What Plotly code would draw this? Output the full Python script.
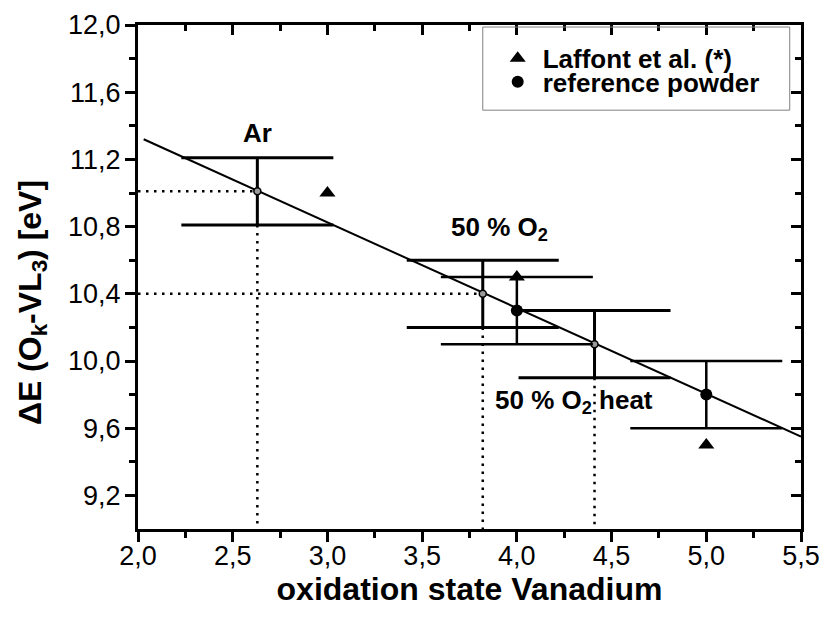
import plotly.graph_objects as go

# ---------------- data ----------------
ox_laffont = [3.0, 4.0, 5.0]
de_laffont = [11.0, 10.5, 9.5]

ox_ref = [4.0, 5.0]
de_ref = [10.3, 9.8]
err_ref = [0.2, 0.2]

ox_samp = [2.63, 3.82, 4.41]
de_samp = [11.01, 10.40, 10.10]
err_samp = [0.2, 0.2, 0.2]
samp_hguide = [True, True, False]

samp_labels = ["Ar", "50 % O<sub>2</sub>", "50 % O<sub>2</sub> heat"]
label_x = [2.63, 3.91, 4.30]
label_y = [11.36, 10.79, 9.76]

fit_x = [2.03, 5.5]
fit_y = [11.32, 9.55]

x_tickvals = [2.0, 2.5, 3.0, 3.5, 4.0, 4.5, 5.0, 5.5]
x_ticktext = ["2,0", "2,5", "3,0", "3,5", "4,0", "4,5", "5,0", "5,5"]
x_minor = [2.25, 2.75, 3.25, 3.75, 4.25, 4.75, 5.25]
y_tickvals = [9.2, 9.6, 10.0, 10.4, 10.8, 11.2, 11.6, 12.0]
y_ticktext = ["9,2", "9,6", "10,0", "10,4", "10,8", "11,2", "11,6", "12,0"]
y_minor = [9.4, 9.8, 10.2, 10.6, 11.0, 11.4, 11.8]

X_RANGE = [2.0, 5.5]
Y_RANGE = [9.0, 12.0]

X_TITLE = "oxidation state Vanadium"
Y_TITLE = "ΔE (O<sub>k</sub>-VL<sub>3</sub>) [eV]"

FONT = "Liberation Sans, Arial, Helvetica, sans-serif"
DOT = dict(color="black", width=2.5, dash="2.5px,5.5px")

fig = go.Figure()

# dotted guide lines
for x, y, e, h in zip(ox_samp, de_samp, err_samp, samp_hguide):
    if h:
        fig.add_trace(go.Scatter(x=[X_RANGE[0], x], y=[y, y], mode="lines",
                                 line=DOT, showlegend=False, hoverinfo="skip"))
    fig.add_trace(go.Scatter(x=[x, x], y=[y - e, Y_RANGE[0]], mode="lines",
                             line=DOT, showlegend=False, hoverinfo="skip"))

# linear fit
fig.add_trace(go.Scatter(x=fit_x, y=fit_y, mode="lines",
                         line=dict(color="black", width=2),
                         showlegend=False, hoverinfo="skip"))

# sample points with error bars
fig.add_trace(go.Scatter(x=ox_samp, y=de_samp, mode="markers",
                         marker=dict(symbol="circle", size=7, color="#9a9a9a",
                                     line=dict(color="black", width=1.5)),
                         error_y=dict(type="data", array=err_samp, visible=True,
                                      color="black", thickness=3, width=76),
                         showlegend=False))

# reference powder
fig.add_trace(go.Scatter(x=ox_ref, y=de_ref, mode="markers",
                         name="<b>reference powder</b>", legend="legend2",
                         marker=dict(symbol="circle", size=12, color="black"),
                         error_y=dict(type="data", array=err_ref, visible=True,
                                      color="black", thickness=2.5, width=76)))

# Laffont et al.
fig.add_trace(go.Scatter(x=ox_laffont, y=de_laffont, mode="markers",
                         name="<b>Laffont et al. (*)</b>", legend="legend",
                         marker=dict(symbol="triangle-up", size=14, color="black")))

# dummy trace for mirrored (inside-tick) axes
fig.add_trace(go.Scatter(x=[None], y=[None], xaxis="x2", yaxis="y2",
                         showlegend=False, hoverinfo="skip"))

for t, x, y in zip(samp_labels, label_x, label_y):
    fig.add_annotation(x=x, y=y, text="<b>" + t + "</b>", showarrow=False,
                       font=dict(family=FONT, size=26, color="black"))

# y axis title (placed like the original, slightly below the axis centre)
fig.add_annotation(xref="paper", yref="paper", x=-0.16, y=0.45,
                   xanchor="center", yanchor="middle", textangle=-90,
                   text="<b>" + Y_TITLE + "</b>", showarrow=False,
                   font=dict(family=FONT, size=32, color="black"))

tickfont = dict(family=FONT, size=27, color="black")
legfont = dict(family=FONT, size=26, color="black")

fig.update_layout(
    width=826, height=624,
    margin=dict(l=138, r=25, t=25, b=95),
    paper_bgcolor="white", plot_bgcolor="white",
    font=dict(family=FONT, color="black"),
    showlegend=True,
    legend=dict(x=0.535, y=0.934, xanchor="left", yanchor="middle",
                bgcolor="rgba(0,0,0,0)", borderwidth=0,
                font=legfont, itemwidth=40),
    legend2=dict(x=0.535, y=0.887, xanchor="left", yanchor="middle",
                 bgcolor="rgba(0,0,0,0)", borderwidth=0,
                 font=legfont, itemwidth=40),
    xaxis=dict(range=X_RANGE, tickvals=x_tickvals, ticktext=x_ticktext,
               ticks="outside", ticklen=10, tickwidth=2.5, tickcolor="black",
               showline=True, linewidth=3, linecolor="black", mirror=True,
               showgrid=False, zeroline=False, tickfont=tickfont,
               ticklabelstandoff=-9, automargin=False,
               minor=dict(tickvals=x_minor, ticks="outside", ticklen=6,
                          tickwidth=2.5, tickcolor="black"),
               title=dict(text="<b>" + X_TITLE + "</b>",
                          font=dict(family=FONT, size=32, color="black"), standoff=7)),
    yaxis=dict(range=Y_RANGE, tickvals=y_tickvals, ticktext=y_ticktext,
               ticks="outside", ticklen=10, tickwidth=2.5, tickcolor="black",
               showline=True, linewidth=3, linecolor="black", mirror=True,
               showgrid=False, zeroline=False, tickfont=tickfont,
               ticklabelstandoff=-1, automargin=False,
               minor=dict(tickvals=y_minor, ticks="outside", ticklen=6,
                          tickwidth=2.5, tickcolor="black")),
    xaxis2=dict(range=X_RANGE, overlaying="x", side="top", anchor="y2",
                tickvals=x_tickvals, ticks="inside", ticklen=10, tickwidth=2.5,
                tickcolor="black", showticklabels=False, showline=False,
                showgrid=False, zeroline=False, automargin=False,
                minor=dict(tickvals=x_minor, ticks="inside", ticklen=6,
                           tickwidth=2.5, tickcolor="black")),
    yaxis2=dict(range=Y_RANGE, overlaying="y", side="right", anchor="x2",
                tickvals=y_tickvals, ticks="inside", ticklen=10, tickwidth=2.5,
                tickcolor="black", showticklabels=False, showline=False,
                showgrid=False, zeroline=False, automargin=False,
                minor=dict(tickvals=y_minor, ticks="inside", ticklen=6,
                           tickwidth=2.5, tickcolor="black")),
    shapes=[dict(type="rect", xref="paper", yref="paper",
                 x0=0.52, x1=0.983, y0=0.831, y1=0.996,
                 line=dict(color="#808080", width=1), fillcolor="rgba(0,0,0,0)",
                 layer="above")],
)

fig.write_html("out.html", config={"displayModeBar": False},
               post_script="document.body.style.margin='0';document.body.style.overflow='hidden';")
